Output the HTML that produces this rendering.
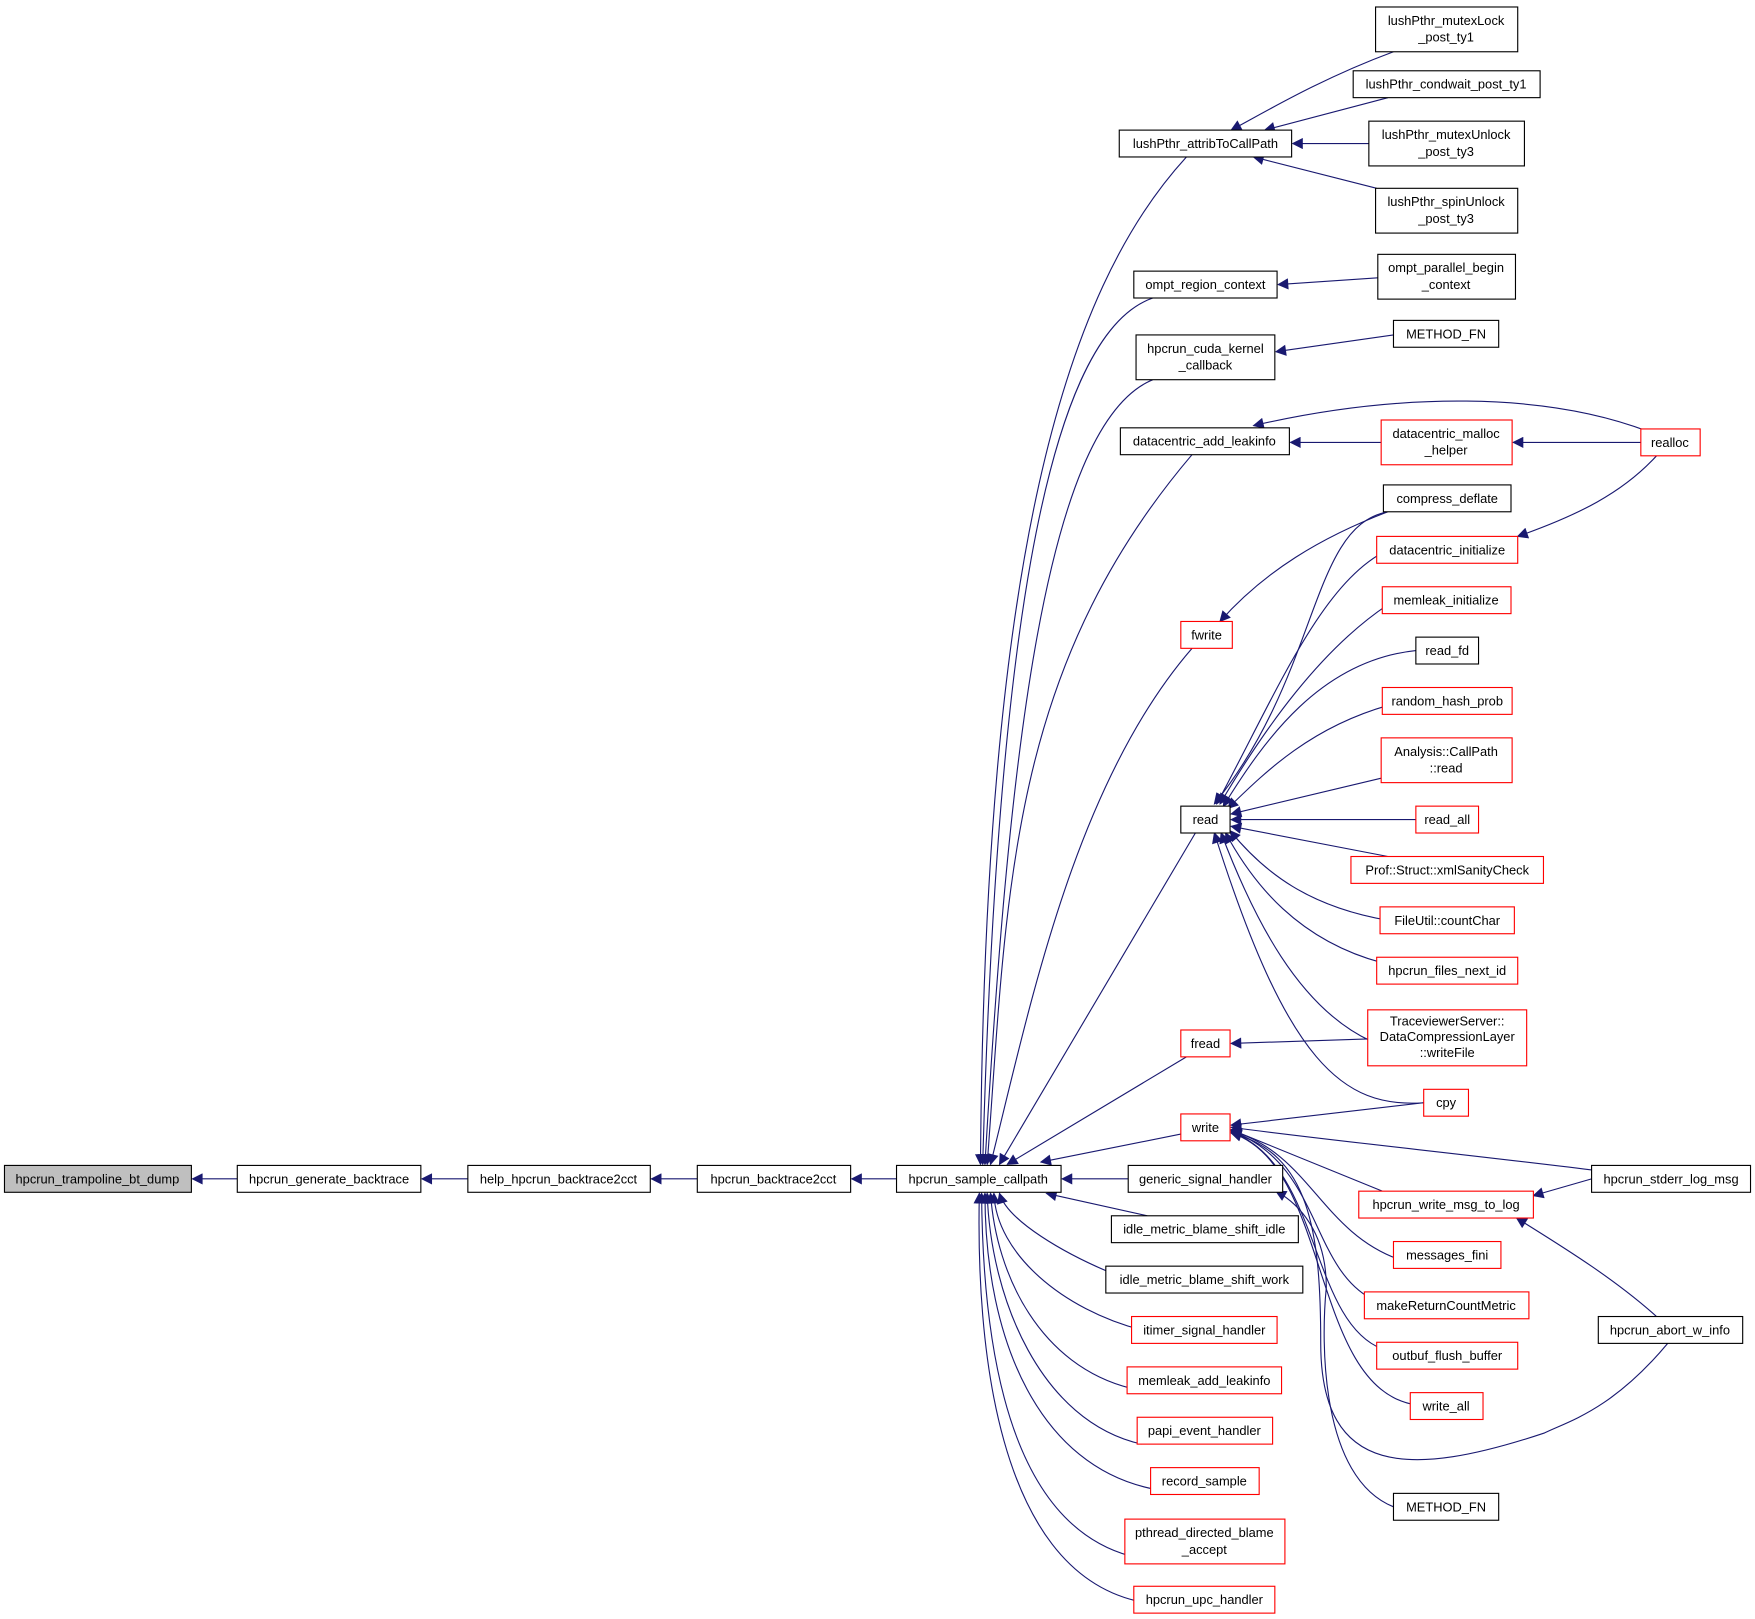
<!DOCTYPE html>
<html><head><meta charset="utf-8"><style>
html,body{margin:0;padding:0;background:#fff;}
svg{display:block;}
text{font-family:"Liberation Sans",sans-serif;font-size:11.5px;fill:#000;text-anchor:middle;}
.n{fill:#fff;stroke:#000;stroke-width:1;}
.r{fill:#fff;stroke:#ff0000;stroke-width:1;}
.g{fill:#bfbfbf;stroke:#000;stroke-width:1;}
.e{fill:none;stroke:#191970;stroke-width:1;marker-end:url(#a);}
</style></head><body>
<svg width="1755" height="1619" viewBox="0 0 1568 1446" xmlns="http://www.w3.org/2000/svg">
<defs><marker id="a" viewBox="0 0 10 10" refX="9" refY="5" markerWidth="13" markerHeight="10" orient="auto" markerUnits="userSpaceOnUse"><path d="M0,0 L10,5 L0,10 z" fill="#191970"/></marker></defs>
<g>
<path class="e" d="M212,1053 L172,1053"/>
<path class="e" d="M418,1053 L377,1053"/>
<path class="e" d="M623,1053 L582,1053"/>
<path class="e" d="M801,1053 L761,1053"/>
<path class="e" d="M1060,140 C950,260 880,500 876,1040"/>
<path class="e" d="M1030,266 C930,300 890,600 878,1040"/>
<path class="e" d="M1030,339 C930,380 900,700 880,1040"/>
<path class="e" d="M1065,406 C900,600 900,800 882,1040"/>
<path class="e" d="M1065,579 C960,700 920,900 885,1040"/>
<path class="e" d="M1068,744 L893,1040"/>
<path class="e" d="M1060,944 L900,1040"/>
<path class="e" d="M1055,1013 L930,1038"/>
<path class="e" d="M1008,1053 L949,1053"/>
<path class="e" d="M1025,1086 L935,1066"/>
<path class="e" d="M1000,1140 C950,1120 900,1090 893,1066"/>
<path class="e" d="M1020,1188 C950,1170 890,1120 888,1066"/>
<path class="e" d="M1010,1240 C930,1220 890,1140 885,1066"/>
<path class="e" d="M1020,1290 C930,1270 885,1160 882,1066"/>
<path class="e" d="M1030,1330 C930,1310 880,1200 880,1066"/>
<path class="e" d="M1010,1390 C900,1360 878,1200 877,1066"/>
<path class="e" d="M1015,1430 C890,1400 872,1200 875,1066"/>
<path class="e" d="M1245,46 C1180,70 1130,100 1100,116"/>
<path class="e" d="M1240,87 L1130,116"/>
<path class="e" d="M1223,128 L1155,128"/>
<path class="e" d="M1230,168 L1120,140"/>
<path class="e" d="M1231,248 L1142,254"/>
<path class="e" d="M1245,299 L1140,314"/>
<path class="e" d="M1234,395 L1153,395"/>
<path class="e" d="M1472,385 C1380,350 1250,350 1120,380"/>
<path class="e" d="M1466,395 L1352,395"/>
<path class="e" d="M1240,457 C1180,480 1130,510 1090,555"/>
<path class="e" d="M1480,407 C1450,440 1410,460 1356,479"/>
<path class="e" d="M1240,457 C1170,470 1180,600 1085,718"/>
<path class="e" d="M1240,491 C1180,520 1140,620 1087,718"/>
<path class="e" d="M1240,540 C1180,580 1130,650 1090,718"/>
<path class="e" d="M1265,581 C1180,590 1130,660 1093,720"/>
<path class="e" d="M1240,630 C1170,650 1130,690 1097,722"/>
<path class="e" d="M1234,695 L1100,727"/>
<path class="e" d="M1265,732 L1100,732"/>
<path class="e" d="M1240,765 L1100,738"/>
<path class="e" d="M1240,822 C1170,810 1130,780 1099,742"/>
<path class="e" d="M1235,860 C1160,840 1120,790 1095,744"/>
<path class="e" d="M1225,930 C1160,900 1120,820 1091,744"/>
<path class="e" d="M1272,985 C1200,990 1150,950 1085,744"/>
<path class="e" d="M1222,928 L1100,932"/>
<path class="e" d="M1272,985 L1100,1005"/>
<path class="e" d="M1422,1045 C1300,1030 1200,1020 1100,1007"/>
<path class="e" d="M1235,1064 L1100,1009"/>
<path class="e" d="M1250,1125 C1180,1100 1170,1030 1100,1010"/>
<path class="e" d="M1225,1160 C1170,1130 1180,1040 1100,1010"/>
<path class="e" d="M1235,1205 C1170,1180 1180,1040 1100,1011"/>
<path class="e" d="M1265,1255 C1170,1240 1190,1040 1100,1012"/>
<path class="e" d="M1490,1200 C1440,1260 1400,1270 1380,1280 C1260,1320 1180,1320 1180,1200 C1180,1100 1170,1030 1100,1012"/>
<path class="e" d="M1245,1346 C1180,1320 1180,1200 1185,1150 C1185,1100 1160,1075 1140,1064"/>
<path class="e" d="M1422,1053 L1370,1068"/>
<path class="e" d="M1480,1176 C1440,1140 1390,1110 1355,1088"/>
</g>
<g>
<rect class="g" x="4" y="1041" width="167" height="24"/><text x="87" y="1057">hpcrun_trampoline_bt_dump</text>
<rect class="n" x="212" y="1041" width="164" height="24"/><text x="294" y="1057">hpcrun_generate_backtrace</text>
<rect class="n" x="418" y="1041" width="163" height="24"/><text x="499" y="1057">help_hpcrun_backtrace2cct</text>
<rect class="n" x="623" y="1041" width="137" height="24"/><text x="691" y="1057">hpcrun_backtrace2cct</text>
<rect class="n" x="801" y="1041" width="147" height="24"/><text x="874" y="1057">hpcrun_sample_callpath</text>

<rect class="n" x="1000" y="116" width="154" height="24"/><text x="1077" y="132">lushPthr_attribToCallPath</text>
<rect class="n" x="1013" y="242" width="128" height="24"/><text x="1077" y="258">ompt_region_context</text>
<rect class="n" x="1015" y="299" width="124" height="40"/><text x="1077" y="315">hpcrun_cuda_kernel</text><text x="1077" y="330">_callback</text>
<rect class="n" x="1001" y="382" width="151" height="24"/><text x="1076" y="398">datacentric_add_leakinfo</text>
<rect class="r" x="1055" y="555" width="46" height="24"/><text x="1078" y="571">fwrite</text>
<rect class="n" x="1055" y="720" width="44" height="24"/><text x="1077" y="736">read</text>
<rect class="r" x="1055" y="920" width="44" height="24"/><text x="1077" y="936">fread</text>
<rect class="r" x="1055" y="995" width="44" height="24"/><text x="1077" y="1011">write</text>
<rect class="n" x="1008" y="1041" width="138" height="24"/><text x="1077" y="1057">generic_signal_handler</text>
<rect class="n" x="993" y="1086" width="167" height="24"/><text x="1076" y="1102">idle_metric_blame_shift_idle</text>
<rect class="n" x="988" y="1131" width="176" height="24"/><text x="1076" y="1147">idle_metric_blame_shift_work</text>
<rect class="r" x="1011" y="1176" width="130" height="24"/><text x="1076" y="1192">itimer_signal_handler</text>
<rect class="r" x="1007" y="1221" width="138" height="24"/><text x="1076" y="1237">memleak_add_leakinfo</text>
<rect class="r" x="1016" y="1266" width="121" height="24"/><text x="1076" y="1282">papi_event_handler</text>
<rect class="r" x="1028" y="1311" width="97" height="24"/><text x="1076" y="1327">record_sample</text>
<rect class="r" x="1005" y="1357" width="143" height="40"/><text x="1076" y="1373">pthread_directed_blame</text><text x="1076" y="1388">_accept</text>
<rect class="r" x="1013" y="1417" width="126" height="24"/><text x="1076" y="1433">hpcrun_upc_handler</text>

<rect class="n" x="1229" y="6" width="127" height="40"/><text x="1292" y="22">lushPthr_mutexLock</text><text x="1292" y="37">_post_ty1</text>
<rect class="n" x="1209" y="63" width="167" height="24"/><text x="1292" y="79">lushPthr_condwait_post_ty1</text>
<rect class="n" x="1223" y="108" width="139" height="40"/><text x="1292" y="124">lushPthr_mutexUnlock</text><text x="1292" y="139">_post_ty3</text>
<rect class="n" x="1229" y="168" width="127" height="40"/><text x="1292" y="184">lushPthr_spinUnlock</text><text x="1292" y="199">_post_ty3</text>
<rect class="n" x="1231" y="227" width="123" height="40"/><text x="1292" y="243">ompt_parallel_begin</text><text x="1292" y="258">_context</text>
<rect class="n" x="1245" y="286" width="94" height="24"/><text x="1292" y="302">METHOD_FN</text>
<rect class="r" x="1234" y="375" width="117" height="40"/><text x="1292" y="391">datacentric_malloc</text><text x="1292" y="406">_helper</text>
<rect class="n" x="1236" y="433" width="114" height="24"/><text x="1293" y="449">compress_deflate</text>
<rect class="r" x="1230" y="479" width="126" height="24"/><text x="1293" y="495">datacentric_initialize</text>
<rect class="r" x="1235" y="524" width="115" height="24"/><text x="1292" y="540">memleak_initialize</text>
<rect class="n" x="1265" y="569" width="56" height="24"/><text x="1293" y="585">read_fd</text>
<rect class="r" x="1235" y="614" width="116" height="24"/><text x="1293" y="630">random_hash_prob</text>
<rect class="r" x="1234" y="659" width="117" height="40"/><text x="1292" y="675">Analysis::CallPath</text><text x="1292" y="690">::read</text>
<rect class="r" x="1265" y="720" width="56" height="24"/><text x="1293" y="736">read_all</text>
<rect class="r" x="1207" y="765" width="172" height="24"/><text x="1293" y="781">Prof::Struct::xmlSanityCheck</text>
<rect class="r" x="1233" y="810" width="120" height="24"/><text x="1293" y="826">FileUtil::countChar</text>
<rect class="r" x="1230" y="855" width="126" height="24"/><text x="1293" y="871">hpcrun_files_next_id</text>
<rect class="r" x="1222" y="902" width="142" height="50"/><text x="1293" y="916">TraceviewerServer::</text><text x="1293" y="930">DataCompressionLayer</text><text x="1293" y="944">::writeFile</text>
<rect class="r" x="1272" y="973" width="40" height="24"/><text x="1292" y="989">cpy</text>
<rect class="r" x="1214" y="1064" width="156" height="24"/><text x="1292" y="1080">hpcrun_write_msg_to_log</text>
<rect class="r" x="1245" y="1109" width="96" height="24"/><text x="1293" y="1125">messages_fini</text>
<rect class="r" x="1219" y="1154" width="147" height="24"/><text x="1292" y="1170">makeReturnCountMetric</text>
<rect class="r" x="1230" y="1199" width="126" height="24"/><text x="1293" y="1215">outbuf_flush_buffer</text>
<rect class="r" x="1260" y="1244" width="65" height="24"/><text x="1292" y="1260">write_all</text>
<rect class="n" x="1245" y="1334" width="94" height="24"/><text x="1292" y="1350">METHOD_FN</text>

<rect class="r" x="1466" y="383" width="53" height="24"/><text x="1492" y="399">realloc</text>
<rect class="n" x="1422" y="1041" width="142" height="24"/><text x="1493" y="1057">hpcrun_stderr_log_msg</text>
<rect class="n" x="1428" y="1176" width="129" height="24"/><text x="1492" y="1192">hpcrun_abort_w_info</text>
</g>
</svg>
</body></html>
